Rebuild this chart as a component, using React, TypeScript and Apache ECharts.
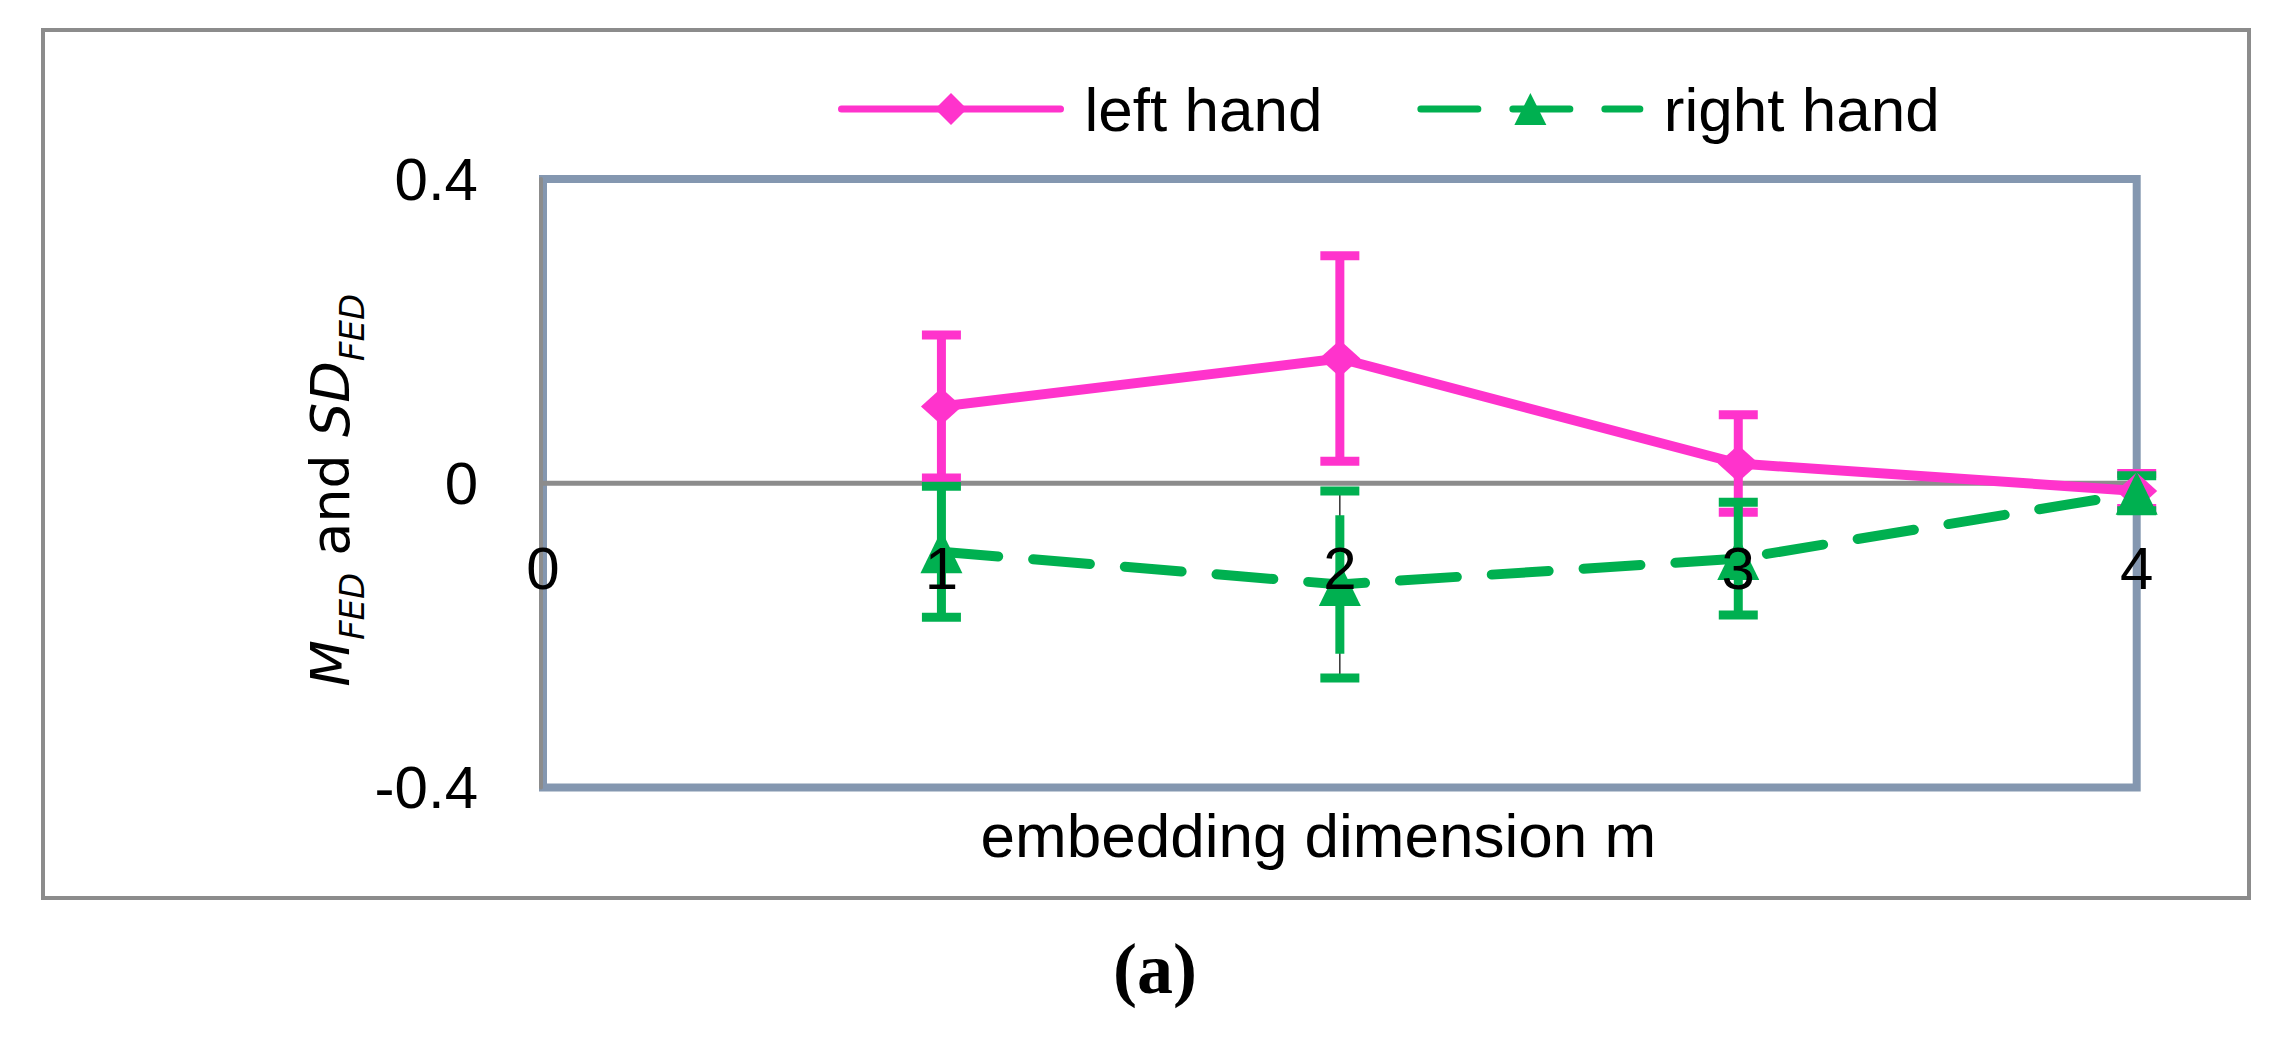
import React, { useEffect, useRef } from 'react';
import * as echarts from 'echarts';

// ---- data ----
const mValues = [1, 2, 3, 4];
const seriesNames = ['left hand', 'right hand'];
const leftMean = [0.101, 0.164, 0.026, -0.01];
const leftSd = [0.094, 0.135, 0.064, 0.023];
const rightMean = [-0.09, -0.133, -0.099, -0.013];
const rightSd = [0.086, 0.123, 0.074, 0.023];
// part of each right-hand error bar drawn with the full (thick) stroke
const rightSolidSd = [0.086, 0.091, 0.074, 0.023];
const xMin = 0;
const xMax = 4;
const xInterval = 1;
const yMin = -0.4;
const yMax = 0.4;
const yInterval = 0.4;
const zeroLine = [
  [xMin, 0],
  [xMax, 0],
];
const xTitle = 'embedding dimension m';
const panelLabel = '(a)';

const PINK = '#FF33CC';
const GREEN = '#00B050';
const SANS = '"Liberation Sans", Arial, sans-serif';
const VERD = '"DejaVu Sans", Verdana, sans-serif';

const errData = (mean: number[], sd: number[], solid: number[]) =>
  mValues.map((m, i) => [m, mean[i] - sd[i], mean[i] + sd[i], mean[i] - solid[i], mean[i] + solid[i]]);

const makeErrorRender = (color: string) => (params: any, api: any) => {
  const x = api.value(0);
  const lo = api.coord([x, api.value(1)]);
  const hi = api.coord([x, api.value(2)]);
  const sLo = api.coord([x, api.value(3)]);
  const sHi = api.coord([x, api.value(4)]);
  const hw = 19.5;
  return {
    type: 'group',
    children: [
      { type: 'line', shape: { x1: lo[0], y1: lo[1], x2: hi[0], y2: hi[1] }, style: { stroke: '#000', lineWidth: 1.2 } },
      { type: 'line', shape: { x1: sLo[0], y1: sLo[1], x2: sHi[0], y2: sHi[1] }, style: { stroke: color, lineWidth: 9 } },
      { type: 'line', shape: { x1: lo[0] - hw, y1: lo[1], x2: lo[0] + hw, y2: lo[1] }, style: { stroke: color, lineWidth: 9 } },
      { type: 'line', shape: { x1: hi[0] - hw, y1: hi[1], x2: hi[0] + hw, y2: hi[1] }, style: { stroke: color, lineWidth: 9 } },
    ],
  };
};

export default function App() {
  const ref = useRef<HTMLDivElement>(null);
  useEffect(() => {
    if (!ref.current) return;
    const chart = echarts.init(ref.current, null, { renderer: 'svg' });
    const subStyle = { fontFamily: VERD, fontStyle: 'italic', fontSize: 34, lineHeight: 40, padding: [32, 0, 0, 0], verticalAlign: 'top', color: '#000' };
    chart.setOption({
      animation: false,
      backgroundColor: '#fff',
      grid: {
        left: 543,
        top: 179,
        right: 150.3,
        bottom: 251.4,
        show: true,
        borderColor: '#8497B0',
        borderWidth: 8,
        backgroundColor: 'transparent',
        containLabel: false,
        outerBoundsMode: 'none',
      },
      legend: {
        data: seriesNames,
        left: 838,
        top: 78,
        padding: 0,
        itemWidth: 219,
        itemHeight: 40,
        itemGap: 95,
        textStyle: { fontSize: 62, fontFamily: SANS, color: '#000', padding: [0, 0, 0, 19] },
        lineStyle: { width: 7 },
      },
      xAxis: {
        type: 'value',
        min: xMin,
        max: xMax,
        interval: xInterval,
        position: 'bottom',
        z: 10,
        axisLine: { show: false, onZero: false },
        axisTick: { show: false },
        splitLine: { show: false },
        // labels sit just below the zero line, as in the original
        axisLabel: { show: true, margin: -249, fontSize: 60, fontFamily: SANS, color: '#000' },
        name: xTitle,
        nameLocation: 'middle',
        nameGap: 17,
        nameMoveOverlap: false,
        nameTextStyle: { fontSize: 62, fontFamily: SANS, color: '#000', padding: [0, 43, 0, 0] },
      },
      yAxis: {
        type: 'value',
        min: yMin,
        max: yMax,
        interval: yInterval,
        offset: 2,
        axisLine: { show: true, onZero: false, lineStyle: { color: '#8C8C8C', width: 4 } },
        axisTick: { show: false },
        splitLine: { show: false },
        axisLabel: { margin: 63, fontSize: 60, fontFamily: SANS, color: '#000' },
        name: '{i|M}{s|FED}{n| and }{i|SD}{s|FED}',
        nameLocation: 'middle',
        nameRotate: 90,
        nameGap: 178,
        nameMoveOverlap: false,
        nameTextStyle: {
          fontFamily: VERD,
          fontSize: 54,
          color: '#000',
          padding: [0, 14, 0, 0],
          rich: {
            i: { fontFamily: VERD, fontStyle: 'italic', fontSize: 54, lineHeight: 60, verticalAlign: 'top', color: '#000' },
            n: { fontFamily: VERD, fontSize: 54, lineHeight: 60, verticalAlign: 'top', color: '#000' },
            s: subStyle,
          },
        },
      },
      series: [
        {
          type: 'line',
          data: zeroLine,
          z: 1,
          silent: true,
          symbol: 'none',
          lineStyle: { color: '#8C8C8C', width: 5 },
        },
        {
          type: 'custom',
          renderItem: makeErrorRender(PINK),
          data: errData(leftMean, leftSd, leftSd),
          silent: true,
        },
        {
          name: seriesNames[0],
          type: 'line',
          data: mValues.map((m, i) => [m, leftMean[i]]),
          symbol: 'diamond',
          symbolSize: [41, 37],
          itemStyle: { color: PINK },
          lineStyle: { color: PINK, width: 10, cap: 'round', join: 'round' },
        },
        {
          type: 'custom',
          renderItem: makeErrorRender(GREEN),
          data: errData(rightMean, rightSd, rightSolidSd),
          silent: true,
        },
        {
          name: seriesNames[1],
          type: 'line',
          data: mValues.map((m, i) => [m, rightMean[i]]),
          symbol: 'triangle',
          symbolSize: [42, 43],
          itemStyle: { color: GREEN },
          lineStyle: { color: GREEN, width: 10, type: [57, 35], cap: 'round', join: 'round' },
        },
      ],
      graphic: [
        {
          type: 'rect',
          silent: true,
          z: -1,
          shape: { x: 43, y: 30, width: 2206, height: 868 },
          style: { fill: 'none', stroke: '#8C8C8C', lineWidth: 4 },
        },
        {
          type: 'text',
          x: 1155,
          y: 969,
          style: {
            text: panelLabel,
            fontFamily: '"Liberation Serif", "Times New Roman", serif',
            fontWeight: 'bold',
            fontSize: 72,
            fill: '#000',
            align: 'center',
            verticalAlign: 'middle',
          },
        },
      ],
    });
    return () => chart.dispose();
  }, []);
  return (
    <div
      ref={ref}
      style={{ position: 'absolute', left: 0, top: 0, width: 2287, height: 1039, background: '#fff' }}
    />
  );
}
